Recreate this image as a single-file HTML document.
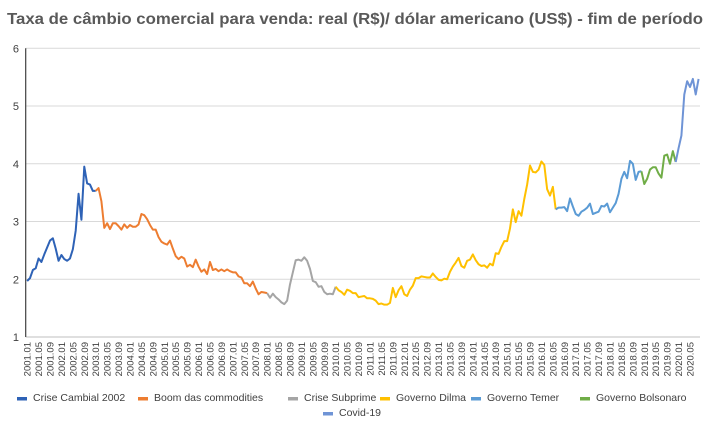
<!DOCTYPE html>
<html><head><meta charset="utf-8"><style>
body{margin:0;background:#fff;}
svg{display:block;font-family:"Liberation Sans",sans-serif;}
</style></head><body>
<svg id="chart" width="710" height="429" viewBox="0 0 710 429">
<text x="7" y="24" font-size="16" font-weight="bold" fill="#595959" textLength="696" lengthAdjust="spacingAndGlyphs">Taxa de câmbio comercial para venda: real (R$)/ dólar americano (US$) - fim de período</text>
<g id="grid"></g><g id="xlabels"></g><g id="series"></g><g id="legend"></g>
</svg>
<script>
const yTicks=[1,2,3,4,5,6];
const rates=[
1.97,2.02,2.16,2.19,2.36,2.30,2.43,2.55,2.67,2.71,2.53,2.32,
2.42,2.35,2.32,2.36,2.52,2.84,3.48,3.03,3.95,3.66,3.64,3.53,
3.53,3.58,3.35,2.89,2.97,2.87,2.97,2.97,2.92,2.86,2.95,2.89,
2.94,2.91,2.91,2.95,3.13,3.11,3.04,2.94,2.86,2.86,2.73,2.65,
2.62,2.60,2.67,2.53,2.40,2.35,2.39,2.36,2.22,2.25,2.21,2.34,
2.22,2.13,2.17,2.09,2.30,2.16,2.18,2.14,2.17,2.14,2.17,2.14,
2.12,2.12,2.05,2.03,1.93,1.93,1.88,1.96,1.84,1.74,1.78,1.77,
1.76,1.68,1.75,1.69,1.65,1.60,1.57,1.63,1.91,2.12,2.33,2.34,
2.32,2.38,2.32,2.18,1.97,1.95,1.87,1.88,1.78,1.74,1.75,1.74,
1.87,1.81,1.78,1.73,1.82,1.80,1.76,1.76,1.69,1.70,1.71,1.67,
1.67,1.66,1.63,1.57,1.58,1.56,1.56,1.59,1.85,1.69,1.81,1.88,
1.74,1.71,1.82,1.89,2.02,2.02,2.05,2.04,2.03,2.03,2.10,2.04,
1.99,1.98,2.01,2.00,2.13,2.22,2.29,2.37,2.23,2.20,2.32,2.34,
2.43,2.33,2.26,2.23,2.24,2.20,2.27,2.24,2.45,2.44,2.56,2.66,
2.66,2.88,3.21,2.99,3.18,3.10,3.39,3.64,3.97,3.86,3.85,3.90,
4.04,3.98,3.56,3.45,3.60,3.21,3.24,3.24,3.25,3.18,3.40,3.26,
3.13,3.10,3.17,3.20,3.24,3.31,3.13,3.15,3.17,3.27,3.26,3.31,
3.16,3.24,3.32,3.48,3.74,3.86,3.75,4.05,4.00,3.72,3.86,3.87,
3.65,3.74,3.90,3.94,3.94,3.83,3.76,4.14,4.16,4.00,4.22,4.03,
4.27,4.49,5.20,5.43,5.33,5.47,5.20,5.47];
const segNames=["Crise Cambial 2002","Boom das commodities","Crise Subprime","Governo Dilma","Governo Temer","Governo Bolsonaro","Covid-19"];
const segStart=[0,24,84,108,185,215,227];
const segEnd=[24,84,108,185,215,227,235];
const segColors=["#2e62b6","#ed7d31","#a5a5a5","#ffc000","#5b9bd5","#70ad47","#6f94d6"];
const startYear=2001;

const X0=25.7,X1=700,Y0=337,Y1=48.3;
const N=rates.length;
const bw=(X1-X0)/N;
const xs=i=>X0+(i+0.5)*bw;
const ys=v=>Y0-(v-1)*(Y0-Y1)/5;
const NS="http://www.w3.org/2000/svg";
function mk(t,a,p){const e=document.createElementNS(NS,t);for(const k in a)e.setAttribute(k,a[k]);p.appendChild(e);return e;}
const grid=document.getElementById('grid');
yTicks.forEach(t=>{
  const l=mk('line',{x1:X0,x2:X1,y1:ys(t),y2:ys(t),stroke:t===1?'#bfbfbf':'#d9d9d9','stroke-width':1},grid);
  
  
  const tx=mk('text',{x:19,y:ys(t)+4,'text-anchor':'end','font-size':11,fill:'#404040'},grid);
  tx.textContent=t;
  
  
});
const ax=mk('line',{x1:X0,x2:X0,y1:Y1,y2:Y0,stroke:'#404040','stroke-width':1.2},grid);


const xl=document.getElementById('xlabels');
for(let i=0;i<N;i+=4){
  const y=startYear+Math.floor(i/12),m=i%12+1;
  const x=xs(i)+3.5;
  const t=mk('text',{x:x,y:342,transform:`rotate(-90 ${x} 342)`,'text-anchor':'end','font-size':9.5,fill:'#404040'},xl);
  t.textContent=y+'.'+String(m).padStart(2,'0');
  
  
}
const sg=document.getElementById('series');
segNames.forEach((n,k)=>{
  let d='';
  for(let i=segStart[k];i<=segEnd[k]&&i<N;i++)d+=(d?'L':'M')+xs(i).toFixed(2)+' '+ys(rates[i]).toFixed(2);
  const p=mk('path',{d:d,fill:'none',stroke:segColors[k],'stroke-width':2,'stroke-linejoin':'round'},sg);
  
  
});
const lg=document.getElementById('legend');
const legX=[17,138,288,380,471,580,323];
const legY=[401,401,401,401,401,401,416];
segNames.forEach((n,k)=>{
  const g=mk('g',{},lg);
  
  
  mk('rect',{x:legX[k],y:legY[k]-4,width:10,height:3.5,fill:segColors[k]},g);
  const t=mk('text',{x:legX[k]+16,y:legY[k],'font-size':10.5,fill:'#404040'},g);
  t.textContent=n;
});
</script>
</body></html>
